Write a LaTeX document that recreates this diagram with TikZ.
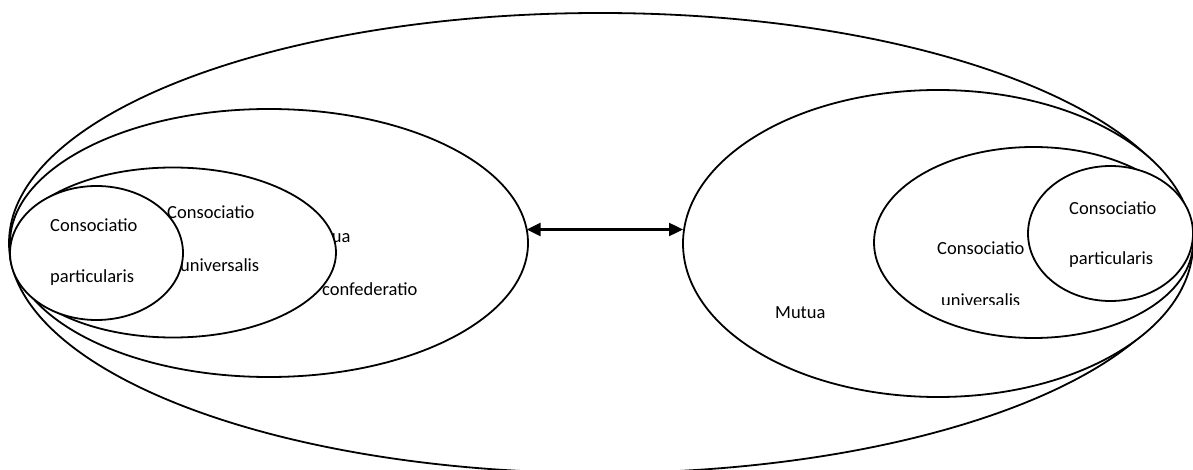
\documentclass[tikz,border=0pt]{standalone}
\usepackage{fontspec}
\setmainfont{Carlito}
\usetikzlibrary{shapes.geometric,arrows.meta}
\tikzset{
  ring/.style={draw=black, line width=1.8pt, fill=white, ellipse, inner sep=0pt, outer sep=0pt},
  lbl/.style={anchor=west, inner sep=0pt, font=\fontsize{18.5}{22}\selectfont},
  link/.style={line width=2.4pt, {Triangle[length=14pt,width=13pt]}-{Triangle[length=14pt,width=13pt]}}
}
\begin{document}
\begin{tikzpicture}[x=1pt,y=-1pt]
\useasboundingbox (0,0) rectangle (1193,470);
% outer
\node[ring, minimum width=1182pt, minimum height=460pt] (O) at (600,243) {};
% left group
\node[ring, minimum width=518pt, minimum height=268pt] (L2) at (269,243) {};
\node[lbl] (lmut) at (300,237) {Mutua};
\node[lbl] (lconf) at (322,289) {confederatio};
\node[ring, minimum width=326pt, minimum height=170pt] (L3) at (173,252.5) {};
\node[lbl] (lcu) at (167,212) {Consociatio};
\node[lbl] (lun) at (180,265) {universalis};
\node[ring, minimum width=173pt, minimum height=134pt] (L4) at (96.5,253) {};
\node[lbl] (lcp) at (50,225) {Consociatio};
\node[lbl] (lpa) at (50,278) {particularis};
% right group
\node[ring, minimum width=510pt, minimum height=307pt] (R1) at (938,243.5) {};
\node[lbl] (rmut) at (775,313) {Mutua};
\node[ring, minimum width=319pt, minimum height=191pt] (R2) at (1033.5,242.5) {};
\node[lbl] (rcu) at (937,248) {Consociatio};
\begin{scope}
\clip (900,280) rectangle (1050,304.5);
\node[lbl] (run) at (941,300) {universalis};
\end{scope}
\node[ring, minimum width=165pt, minimum height=135pt] (R3) at (1110.5,233.5) {};
\node[lbl] (rcp) at (1069,208) {Consociatio};
\node[lbl] (rpa) at (1069,260) {particularis};
% arrow
\draw[link] (L2.3.2) -- (R1.west |- L2.3.2);
\end{tikzpicture}
\end{document}
